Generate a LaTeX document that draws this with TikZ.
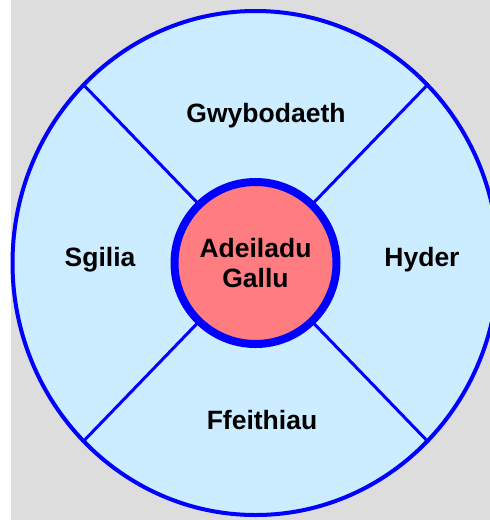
\documentclass[tikz,border=0pt]{standalone}
\usepackage{fontspec}
\setmainfont{Liberation Sans}
\definecolor{bggrey}{HTML}{DDDDDD}
\definecolor{paleblue}{HTML}{CCECFF}
\definecolor{ringblue}{HTML}{0000FF}
\definecolor{hubpink}{HTML}{FF7C80}
\begin{document}
\begin{tikzpicture}[x=1pt, y=-1pt, line join=round, line cap=round, font=\fontsize{26.5}{30}\selectfont\bfseries]
	\clip (0,0) rectangle (490,520);
	\fill[bggrey] (11,0) rectangle (490,520);
	\path
	(255.5,263) coordinate (O)
	(83.7,85) coordinate (NW)
	(427.3,85) coordinate (NE)
	(83.7,441) coordinate (SW)
	(427.3,441) coordinate (SE);
	\draw[line width=4pt, draw=ringblue, fill=paleblue] (O) ellipse [x radius=243pt, y radius=252pt];
	\node[circle, draw=ringblue, line width=8pt, fill=hubpink, minimum size=162pt, inner sep=0pt, align=center] (hub) at (O) {Adeiladu\\Gallu};
	\foreach \c in {NW,NE,SW,SE}\draw[line width=3pt, ringblue] (hub)--(\c);
	\foreach \t/\p/\n in {Gwybodaeth/{(266,122)}/gwyb, Hyder/{(422,266)}/hyder, Sgilia/{(100,266)}/sgil, Ffeithiau/{(262,429)}/ffeith}
	\node[anchor=base] (\n) at \p {\t};
\end{tikzpicture}
\end{document}
